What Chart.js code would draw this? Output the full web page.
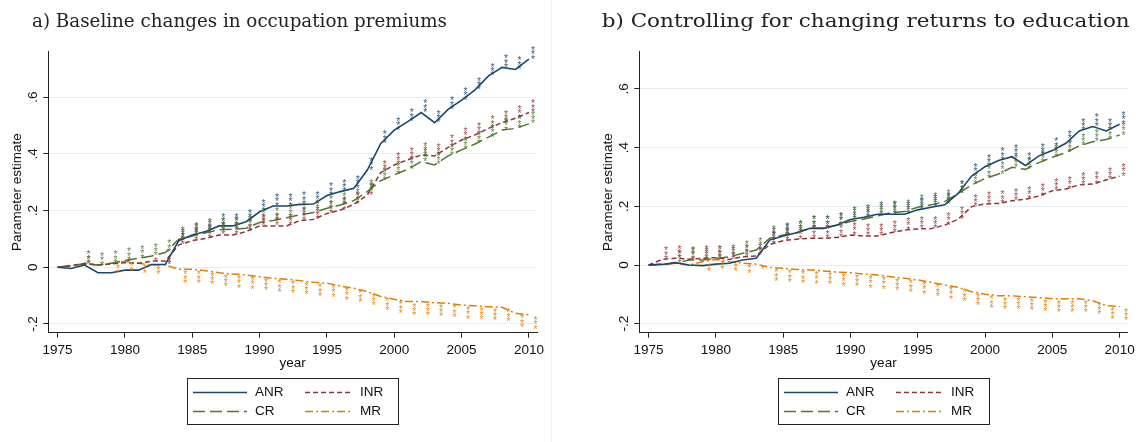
<!DOCTYPE html>
<html>
<head>
<meta charset="utf-8">
<script src="https://cdn.jsdelivr.net/npm/chart.js"></script>
<style>
  body { margin: 0; background: #fff; }
  #wrap { position: relative; width: 1140px; height: 442px; overflow: hidden; }
  #wrap canvas { position: absolute; top: 0; }
  #sep { position: absolute; left: 551px; top: 0; width: 1px; height: 442px; background: #eaf1f3; }
</style>
</head>
<body>
<div id="wrap">
  <canvas id="panelA" width="560" height="442" style="left:0"></canvas>
  <div id="sep"></div>
  <canvas id="panelB" width="549" height="442" style="left:591px"></canvas>
</div>
<script>
// Años
const years = [1975, 1976, 1977, 1978, 1979, 1980, 1981, 1982, 1983, 1984,
               1985, 1986, 1987, 1988, 1989, 1990, 1991, 1992, 1993, 1994,
               1995, 1996, 1997, 1998, 1999, 2000, 2001, 2002, 2003, 2004,
               2005, 2006, 2007, 2008, 2009, 2010];
const xTicks = [1975, 1980, 1985, 1990, 1995, 2000, 2005, 2010];
const yTicks = [-0.2, 0, 0.2, 0.4, 0.6];
const yTickLabels = ['-.2', '0', '.2', '.4', '.6'];
const seriesNames = ['ANR', 'INR', 'CR', 'MR'];

// a) Baseline
const anrA = [0, -0.004, 0.008, -0.019, -0.019, -0.01, -0.01, 0.01, 0.01, 0.094,
              0.114, 0.126, 0.146, 0.146, 0.161, 0.196, 0.216, 0.216, 0.222, 0.223,
              0.253, 0.267, 0.279, 0.343, 0.437, 0.484, 0.514, 0.546, 0.51, 0.557,
              0.59, 0.626, 0.675, 0.705, 0.698, 0.734];
const inrA = [0, 0.005, 0.014, 0.008, 0.012, 0.016, 0.014, 0.022, 0.022, 0.079,
              0.094, 0.102, 0.114, 0.114, 0.126, 0.146, 0.146, 0.146, 0.165, 0.169,
              0.19, 0.202, 0.222, 0.255, 0.334, 0.361, 0.379, 0.396, 0.393, 0.423,
              0.449, 0.467, 0.49, 0.51, 0.526, 0.546];
const crA  = [0, 0.007, 0.011, 0.008, 0.014, 0.024, 0.032, 0.04, 0.052, 0.099,
              0.11, 0.122, 0.132, 0.134, 0.138, 0.158, 0.165, 0.175, 0.185, 0.193,
              0.208, 0.22, 0.235, 0.267, 0.306, 0.326, 0.346, 0.373, 0.361, 0.393,
              0.414, 0.435, 0.459, 0.484, 0.49, 0.506];
const mrA  = [0, 0.005, 0.014, 0.008, 0.014, 0.021, 0.014, 0.008, 0.008, -0.007,
              -0.007, -0.012, -0.019, -0.024, -0.027, -0.033, -0.039, -0.042, -0.047, -0.053,
              -0.056, -0.066, -0.074, -0.086, -0.103, -0.113, -0.121, -0.121, -0.125, -0.127,
              -0.133, -0.136, -0.139, -0.141, -0.162, -0.168];

// b) Controlando por retornos a la educación
const anrB = [0, 0.002, 0.008, 0, -0.002, 0.003, 0.006, 0.017, 0.023, 0.085,
              0.099, 0.11, 0.125, 0.125, 0.136, 0.155, 0.163, 0.173, 0.173, 0.173,
              0.188, 0.197, 0.205, 0.244, 0.303, 0.335, 0.356, 0.369, 0.339, 0.372,
              0.39, 0.415, 0.457, 0.472, 0.457, 0.48];
const inrB = [0, 0.019, 0.023, 0.02, 0.023, 0.025, 0.019, 0.028, 0.031, 0.07,
              0.083, 0.088, 0.091, 0.091, 0.094, 0.102, 0.099, 0.099, 0.11, 0.119,
              0.123, 0.124, 0.136, 0.156, 0.199, 0.208, 0.21, 0.219, 0.224, 0.235,
              0.253, 0.259, 0.273, 0.276, 0.29, 0.303];
const crB  = [0, 0.003, 0.006, 0.017, 0.017, 0.022, 0.028, 0.04, 0.051, 0.091,
              0.102, 0.11, 0.125, 0.125, 0.136, 0.148, 0.157, 0.167, 0.178, 0.182,
              0.197, 0.205, 0.216, 0.244, 0.273, 0.295, 0.31, 0.333, 0.326, 0.349,
              0.367, 0.383, 0.406, 0.42, 0.428, 0.443];
const mrB  = [0, 0.002, 0.006, 0, 0.011, 0.019, 0.011, 0.006, 0.003, -0.008,
              -0.011, -0.015, -0.017, -0.02, -0.024, -0.026, -0.031, -0.034, -0.04, -0.045,
              -0.051, -0.059, -0.068, -0.076, -0.091, -0.1, -0.105, -0.105, -0.108, -0.111,
              -0.115, -0.115, -0.115, -0.122, -0.138, -0.142];

// Estrellas de significancia (número de *)
const starsAnrA = [0,0,0,0,0,0,0,0,1,3, 3,3,3,3,3,3,3,3,3,3, 3,3,3,3,3,3,3,3,3,3, 3,3,3,3,3,3];
const starsInrA = [0,0,3,0,0,1,0,1,1,3, 3,3,3,3,3,3,3,3,3,3, 3,3,3,3,3,3,3,3,3,3, 3,3,3,3,3,3];
const starsCrA  = [0,0,2,3,3,3,3,3,3,3, 3,3,3,3,3,3,3,3,3,3, 3,3,3,3,3,3,3,3,3,3, 3,3,3,3,3,3];
const starsMrA  = [0,0,0,0,2,2,2,2,0,3, 3,3,3,3,3,3,3,3,3,3, 3,3,3,3,3,3,3,3,3,3, 3,3,3,3,3,3];
const starsAnrB = [0,0,0,0,0,0,0,0,0,3, 3,3,3,3,3,3,3,3,3,3, 3,3,3,3,3,3,3,3,3,3, 3,3,3,3,3,3];
const starsInrB = [0,3,3,3,3,3,3,3,3,3, 3,3,3,3,3,3,3,3,3,3, 3,3,3,3,3,3,3,3,3,3, 3,3,3,3,3,3];
const starsCrB  = [0,0,3,3,3,3,3,3,3,3, 3,3,3,3,3,3,3,3,3,3, 3,3,3,3,3,3,3,3,3,3, 3,3,3,3,3,3];
const starsMrB  = [0,0,0,0,2,2,2,2,1,3, 3,3,3,3,3,3,3,3,3,3, 3,3,3,3,3,3,3,3,3,3, 3,3,3,3,3,3];

// Estilos Stata s2color
const colores = ['#1a476f', '#90353b', '#55752f', '#e37e00'];
const trazos = [[], [5, 3], [12, 5], [8, 3, 2, 3]];
const fuente = '"Liberation Sans", Arial, sans-serif';

// Plugin: estrellas, etiquetas del eje y, títulos y leyenda
const stataLook = {
    id: 'stataLook',
    afterDatasetsDraw(chart) {
        const ctx = chart.ctx;
        chart.data.datasets.forEach((ds, i) => {
            const meta = chart.getDatasetMeta(i);
            ctx.save();
            ctx.fillStyle = ds.borderColor;
            ctx.globalAlpha = 0.85;
            ctx.font = '10.5px ' + fuente;
            ctx.textAlign = 'center';
            ctx.textBaseline = 'alphabetic';
            meta.data.forEach((pt, j) => {
                const n = ds.stars[j];
                for (let k = 0; k < n; k++) {
                    let xc, yc;
                    if (ds.starsBelow) { xc = pt.x + 6.5; yc = pt.y + 3 + k * 4.3; }
                    else { xc = pt.x + 4; yc = pt.y - 2.5 - k * 4.3; }
                    ctx.fillText('*', xc, yc + 6);
                }
            });
            ctx.restore();
        });
    },
    afterDraw(chart, args, opts) {
        const ctx = chart.ctx;
        const area = chart.chartArea;
        const yScale = chart.scales.y;
        ctx.save();
        ctx.fillStyle = '#111';
        ctx.font = '13.5px ' + fuente;
        ctx.textAlign = 'center';
        ctx.textBaseline = 'middle';

        // Etiquetas del eje y, rotadas
        yTicks.forEach((v, i) => {
            ctx.save();
            ctx.translate(area.left - 14.8, yScale.getPixelForValue(v));
            ctx.rotate(-Math.PI / 2);
            ctx.fillText(yTickLabels[i], 0, 0);
            ctx.restore();
        });

        // Título del eje y
        ctx.save();
        ctx.translate(area.left - 31.3, (area.top + area.bottom) / 2);
        ctx.rotate(-Math.PI / 2);
        ctx.fillText('Parameter estimate', 0, 0);
        ctx.restore();

        // Título del eje x
        ctx.textBaseline = 'alphabetic';
        ctx.fillText('year', (area.left + area.right) / 2, 367);

        // Leyenda
        ctx.strokeStyle = '#222';
        ctx.lineWidth = 1;
        ctx.strokeRect(187.5, 378.5, 211, 46);
        const cols = [{ x0: 193, x1: 247, tx: 255 }, { x0: 305, x1: 353, tx: 360 }];
        const rows = [392.5, 411.5];
        chart.data.datasets.forEach((ds, i) => {
            const c = cols[i % 2];
            const r = rows[Math.floor(i / 2)];
            ctx.beginPath();
            ctx.setLineDash(ds.borderDash);
            ctx.strokeStyle = ds.borderColor;
            ctx.lineWidth = 1.3;
            ctx.moveTo(c.x0, r);
            ctx.lineTo(c.x1, r);
            ctx.stroke();
            ctx.setLineDash([]);
            ctx.fillStyle = '#111';
            ctx.textAlign = 'left';
            ctx.textBaseline = 'middle';
            ctx.fillText(ds.label, c.tx, r);
        });

        // Título del panel (ajustado al ancho del original)
        ctx.font = '19px "DejaVu Serif", serif';
        ctx.fillStyle = '#222';
        ctx.textAlign = 'left';
        ctx.textBaseline = 'alphabetic';
        const w = ctx.measureText(opts.title).width;
        ctx.save();
        ctx.translate(opts.titleX, 26.5);
        ctx.scale(opts.titleWidth / w, 1);
        ctx.fillText(opts.title, 0, 0);
        ctx.restore();
        ctx.restore();
    }
};

function crearPanel(id, valores, estrellas, yMax, padDerecha, titulo, tituloX, tituloAncho) {
    const datasets = seriesNames.map((nombre, i) => ({
        label: nombre,
        data: years.map((a, j) => ({ x: a, y: valores[i][j] })),
        stars: estrellas[i],
        starsBelow: nombre === 'MR',
        borderColor: colores[i],
        borderDash: trazos[i],
        borderWidth: i === 0 ? 1.6 : 1.5,
        pointRadius: 0,
        tension: 0,
        fill: false
    }));

    return new Chart(document.getElementById(id), {
        type: 'line',
        data: { datasets: datasets },
        plugins: [stataLook],
        options: {
            responsive: false,
            animation: false,
            devicePixelRatio: 1,
            layout: { padding: { top: 51.7, right: padDerecha, left: 0, bottom: 0 } },
            plugins: {
                legend: { display: false },
                tooltip: { enabled: false },
                stataLook: { title: titulo, titleX: tituloX, titleWidth: tituloAncho }
            },
            scales: {
                x: {
                    type: 'linear',
                    min: 1974.31,
                    max: 2010.6,
                    afterBuildTicks: s => { s.ticks = xTicks.map(v => ({ value: v })); },
                    afterFit: s => { s.height = 109.3; },
                    ticks: {
                        autoSkip: false,
                        maxRotation: 0,
                        padding: 4,
                        color: '#111',
                        font: { family: fuente, size: 13.5 },
                        callback: v => String(v)
                    },
                    grid: { drawOnChartArea: false, tickLength: 5, color: '#222' },
                    border: { color: '#222', width: 1 }
                },
                y: {
                    type: 'linear',
                    min: -0.2307,
                    max: yMax,
                    afterBuildTicks: s => { s.ticks = yTicks.map(v => ({ value: v })); },
                    afterFit: s => { s.width = 48.3; },
                    ticks: { display: false },
                    grid: { color: '#e6eef1', lineWidth: 1, tickLength: 5, tickColor: '#222' },
                    border: { color: '#222', width: 1 }
                }
            }
        }
    });
}

crearPanel('panelA', [anrA, inrA, crA, mrA], [starsAnrA, starsInrA, starsCrA, starsMrA],
           0.7605, 23, 'a) Baseline changes in occupation premiums', 32, 415);
crearPanel('panelB', [anrB, inrB, crB, mrB], [starsAnrB, starsInrB, starsCrB, starsMrB],
           0.727, 12.3, 'b) Controlling for changing returns to education', 10.7, 528);
</script>
</body>
</html>
